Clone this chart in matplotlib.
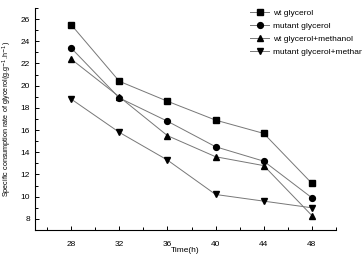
import matplotlib
matplotlib.use("Agg")
import matplotlib.pyplot as plt
from matplotlib.ticker import MultipleLocator

time_h = [28, 32, 36, 40, 44, 48]
wt_glycerol = [25.5, 20.4, 18.6, 16.9, 15.7, 11.2]
mutant_glycerol = [23.4, 18.9, 16.8, 14.5, 13.2, 9.9]
wt_glycerol_methanol = [22.4, 19.0, 15.5, 13.6, 12.8, 8.3]
mutant_glycerol_methanol = [18.8, 15.8, 13.3, 10.2, 9.6, 9.0]
labels = ["wt glycerol", "mutant glycerol", "wt glycerol+methanol", "mutant glycerol+methanol"]

plt.rcParams['font.family'] = ['Liberation Sans', 'DejaVu Sans']
fig = plt.figure(figsize=(3.62, 2.58), dpi=100)
ax = fig.add_axes([35/362, 28/258, 301/362, 222/258])

series = [wt_glycerol, mutant_glycerol, wt_glycerol_methanol, mutant_glycerol_methanol]
markers = ['s', 'o', '^', 'v']
for s, m, lab in zip(series, markers, labels):
    ax.plot(time_h, s, color='#777777', lw=0.7, marker=m, markersize=4.2,
            markerfacecolor='black', markeredgecolor='black', label=lab)

ax.set_xlim(25, 50)
ax.set_ylim(7, 27)
ax.xaxis.set_major_locator(MultipleLocator(4))
ax.xaxis.set_minor_locator(MultipleLocator(2))
ax.yaxis.set_major_locator(MultipleLocator(2))
ax.yaxis.set_minor_locator(MultipleLocator(1))
ax.set_xticks(time_h)
ax.tick_params(which='both', direction='in', labelsize=6, width=0.7)
ax.tick_params(which='major', length=3)
ax.tick_params(which='minor', length=2)
ax.tick_params(axis='x', pad=8)
for sp in ['top', 'right']:
    ax.spines[sp].set_visible(False)
for sp in ['left', 'bottom']:
    ax.spines[sp].set_linewidth(0.8)

ax.set_xlabel("Time(h)", fontsize=6, labelpad=-1)
ax.set_ylabel("Specific consumption rate of glycerol(g.g$^{-1}$.h$^{-1}$)", fontsize=5.2, labelpad=5)

fig.legend(loc='upper left', bbox_to_anchor=(250/362, 1 - 9/258), frameon=False,
           fontsize=6, handlelength=2.3, labelspacing=0.63, handletextpad=0.5,
           borderaxespad=0, borderpad=0)

fig.savefig("out.png", dpi=100)
